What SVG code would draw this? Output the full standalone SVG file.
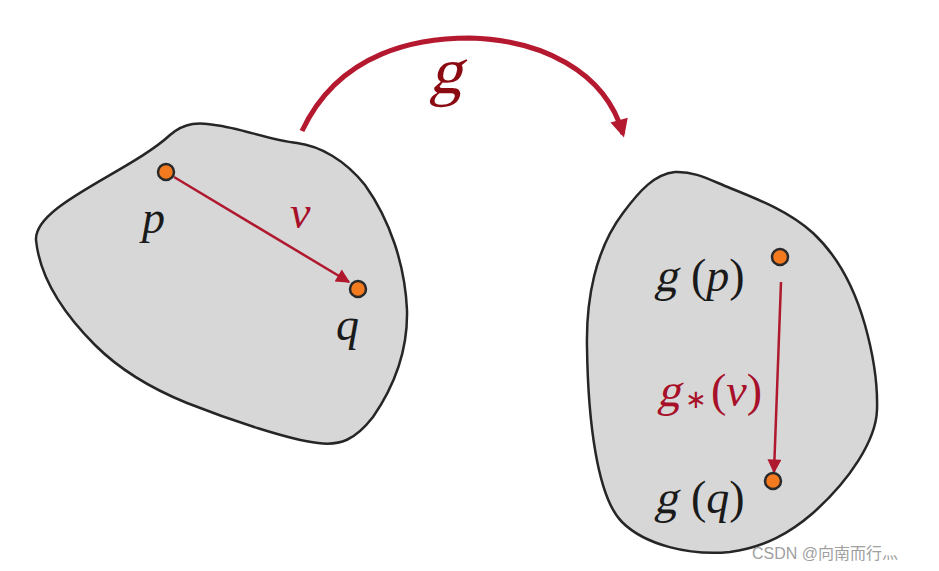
<svg xmlns="http://www.w3.org/2000/svg" width="939" height="571" viewBox="0 0 939 571">
<defs>
<style>
.blob{fill:#d7d7d7;stroke:#262626;stroke-width:2.5}
.pt{fill:#f47a20;stroke:#2a2a2a;stroke-width:2.5}
.lbl{font-family:'Liberation Serif','Times New Roman',serif;font-size:46px;fill:#1a1a1a}
.it{font-style:italic}
.red{fill:#a8102a}
.vec{stroke:#b0182e;stroke-width:2.5;fill:none}
</style>
<marker id="ahs" viewBox="0 0 10 10" refX="9" refY="5" markerWidth="18" markerHeight="14" orient="auto" markerUnits="userSpaceOnUse">
<path d="M0,0 L10,5 L0,10 z" fill="#b0182e"/>
</marker>
<marker id="ahb" viewBox="0 0 10 10" refX="8" refY="5" markerWidth="20" markerHeight="18" orient="auto" markerUnits="userSpaceOnUse">
<path d="M0,0 L10,5 L0,10 z" fill="#b5192f"/>
</marker>
</defs>
<g id="domain">
<path class="blob" d="M36,240 C34,205 130,172 170,135 C185,122 200,122 215,125 C240,128 270,140 297,143 C320,146 345,160 365,185 C390,220 405,265 407,310 C408,350 395,385 373,417 C355,440 340,446 318,443 C290,440 230,420 187,403 C150,388 120,370 95,345 C65,315 40,280 36,240 Z"/>
</g>
<g id="codomain">
<path class="blob" d="M587,347 C586,300 595,250 623,213 C640,190 655,174 675,172 C695,171 710,180 730,188 C760,200 790,212 813,233 C840,258 855,290 865,325 C872,350 878,380 877,410 C876,440 850,480 813,513 C790,533 765,547 730,552 C690,556 645,545 622,522 C597,497 588,420 587,347 Z"/>
</g>
<g id="connectors">
<path d="M302,131 C340,50 420,38 470,38 C540,40 605,70 623,134" stroke="#b5192f" stroke-width="5" fill="none" marker-end="url(#ahb)"/>
<line class="vec" x1="174" y1="177" x2="349" y2="282" marker-end="url(#ahs)"/>
<line class="vec" x1="781" y1="282" x2="774" y2="472" marker-end="url(#ahs)"/>
</g>
<g id="map-label"><text class="lbl" transform="translate(429,93) skewX(-14)" style="font-size:66px;fill:#8b0a12">g</text></g>
<g id="p"><circle class="pt" cx="166" cy="172" r="8"/><text class="lbl it" x="142" y="233">p</text></g>
<g id="q"><circle class="pt" cx="358" cy="289" r="8"/><text class="lbl it" x="336" y="340">q</text></g>
<g id="v"><text class="lbl it red" x="290" y="228">v</text></g>
<g id="gp"><circle class="pt" cx="780" cy="257" r="8"/><text class="lbl" transform="translate(654,291) skewX(-14)">g</text><text class="lbl" x="691" y="291">(<tspan class="it">p</tspan>)</text></g>
<g id="gq"><circle class="pt" cx="773" cy="481" r="8"/><text class="lbl" transform="translate(654,513) skewX(-14)">g</text><text class="lbl" x="691" y="513">(<tspan class="it">q</tspan>)</text></g>
<g id="gv"><text class="lbl red" transform="translate(657,406) skewX(-14)">g</text><text class="lbl red" x="685" y="408" style="font-size:26px">∗</text><text class="lbl red" x="711" y="406">(<tspan class="it">v</tspan>)</text></g>
<text x="752" y="559" font-family="Liberation Sans, Noto Sans CJK SC, sans-serif" font-size="16" fill="#a0a0a0">CSDN @向南而行灬</text>
</svg>
